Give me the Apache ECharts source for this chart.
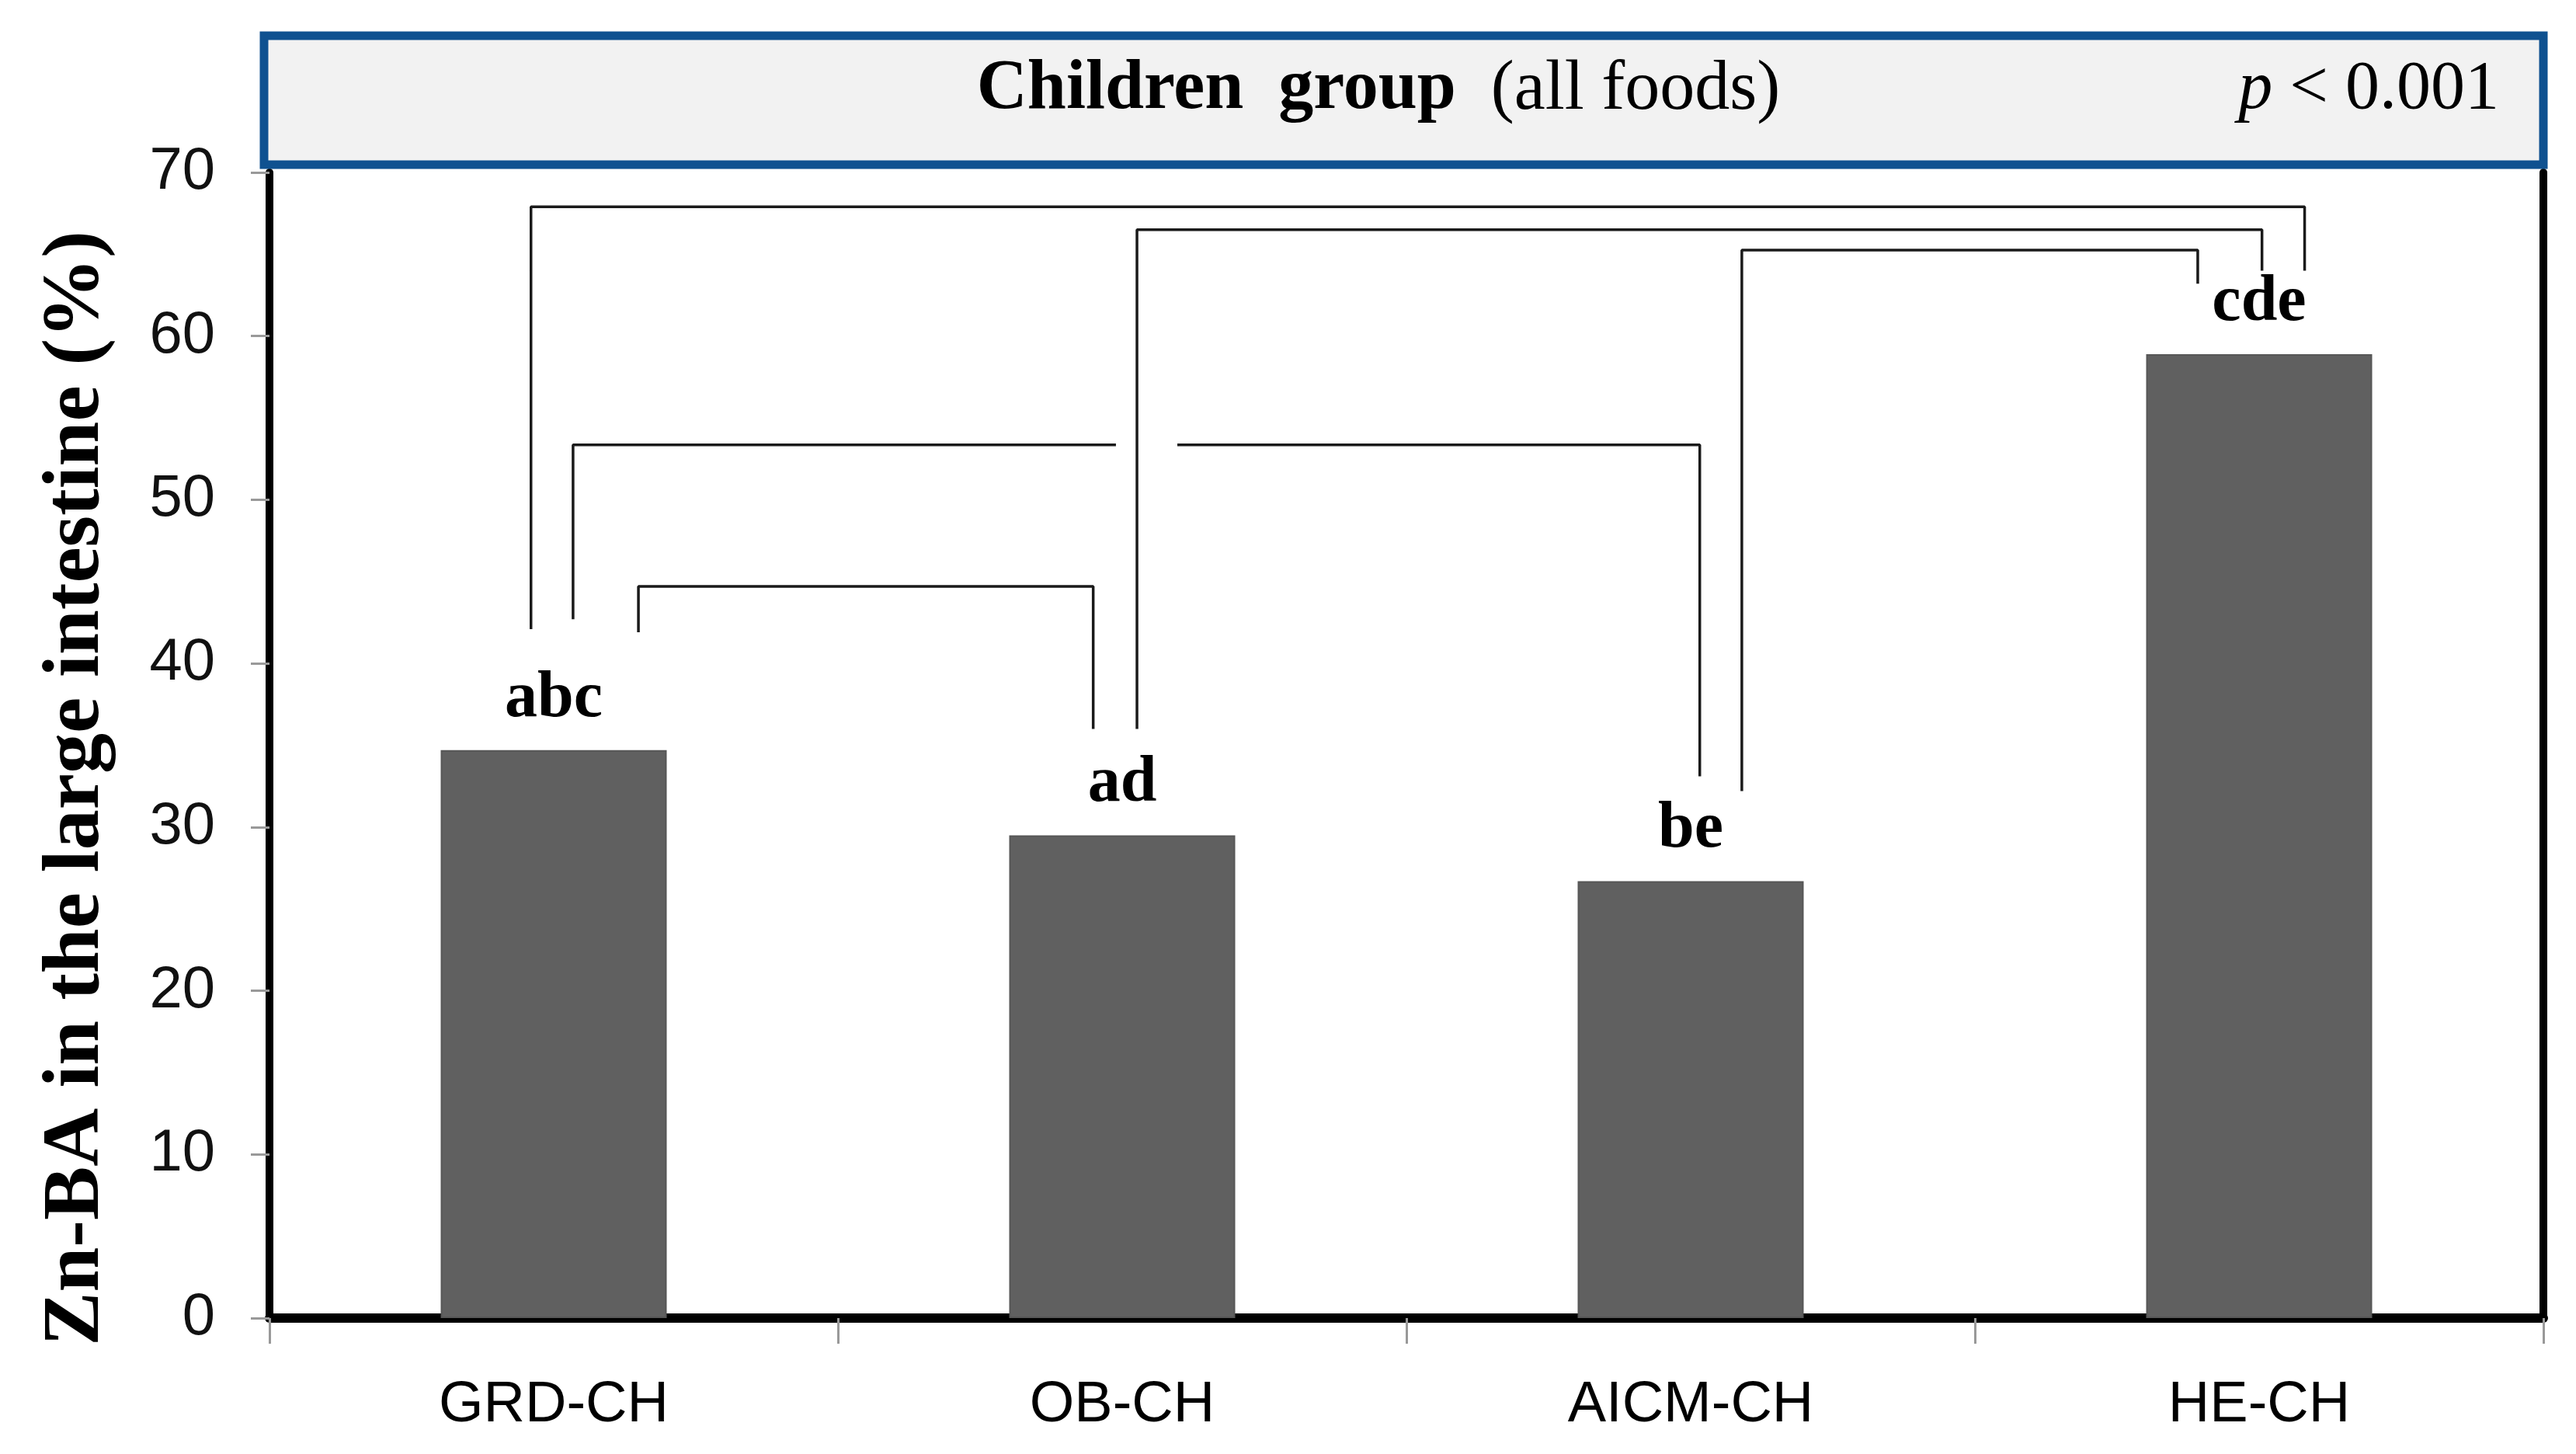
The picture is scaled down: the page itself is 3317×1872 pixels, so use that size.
<!DOCTYPE html>
<html>
<head>
<meta charset="utf-8">
<script src="https://cdn.jsdelivr.net/npm/echarts@6/dist/echarts.min.js"></script>
<style>
html,body{margin:0;padding:0;background:#fff;}
#chart{width:3317px;height:1872px;}
</style>
</head>
<body>
<div id="chart"></div>
<script>
const categories = ['GRD-CH', 'OB-CH', 'AICM-CH', 'HE-CH'];
const values = [34.7, 29.5, 26.7, 58.9];
const letters = ['abc', 'ad', 'be', 'cde'];
const yTicks = [0, 10, 20, 30, 40, 50, 60, 70];
// significance brackets, in data space: [category position, value]
const bracketAD = [[-0.04, 42.1], [-0.04, 67.9], [3.08, 67.9], [3.08, 64.0]];
const bracketB1 = [[0.034, 42.7], [0.034, 53.35], [0.989, 53.35]];
const bracketB2 = [[1.097, 53.35], [2.016, 53.35], [2.016, 33.1]];
const bracketA = [[0.149, 41.9], [0.149, 44.7], [0.949, 44.7], [0.949, 36.0]];
const bracketD = [[1.026, 36.0], [1.026, 66.5], [3.005, 66.5], [3.005, 64.0]];
const bracketE = [[2.09, 32.2], [2.09, 65.26], [2.892, 65.26], [2.892, 63.2]];
const brackets = [bracketAD, bracketB1, bracketB2, bracketA, bracketD, bracketE];

const chart = echarts.init(document.getElementById('chart'));
const sans = '"Liberation Sans", Arial, sans-serif';
const serif = '"Liberation Serif", "Times New Roman", serif';

const bracketSeries = brackets.map(b => ({
  type: 'line', xAxisIndex: 1, yAxisIndex: 0, data: b, symbol: 'none', silent: true,
  lineStyle: { color: '#1a1a1a', width: 3.5 }, z: 5, animation: false
}));

chart.setOption({
  animation: false,
  backgroundColor: '#ffffff',
  grid: { left: 347, right: 42, top: 222, bottom: 175, containLabel: false },
  xAxis: [{
    type: 'category', data: categories,
    axisLine: { show: true, lineStyle: { color: '#000', width: 12 } },
    axisTick: { show: true, length: 33, lineStyle: { color: '#999', width: 3 } },
    axisLabel: { color: '#000', fontFamily: sans, fontSize: 74, margin: 76 }
  }, {
    type: 'value', min: -0.5, max: 3.5, show: false
  }],
  yAxis: [{
    type: 'value', min: 0, max: 70, interval: 10, position: 'left',
    axisLine: { show: true, onZero: false, lineStyle: { color: '#000', width: 10 } },
    axisTick: { show: true, length: 24, lineStyle: { color: '#999', width: 3 } },
    splitLine: { show: false },
    axisLabel: { color: '#111', fontFamily: sans, fontSize: 76, margin: 70,
      formatter: v => yTicks.includes(v) ? String(v) : '' }
  }, {
    type: 'value', min: 0, max: 70, interval: 10, position: 'right',
    axisLine: { show: true, onZero: false, lineStyle: { color: '#000', width: 10 } },
    axisTick: { show: false }, axisLabel: { show: false }, splitLine: { show: false }
  }],
  graphic: [
    { type: 'rect', z: 10, shape: { x: 340, y: 46, width: 2935, height: 166 },
      style: { fill: '#f2f2f2', stroke: '#0f5190', lineWidth: 11 } },
    { type: 'text', z: 11, x: 1775, y: 116,
      style: { text: '{b|Children  group}{r|  (all foods)}', align: 'center', verticalAlign: 'middle',
        rich: { b: { fontFamily: serif, fontWeight: 'bold', fontSize: 90, fill: '#000' },
                r: { fontFamily: serif, fontSize: 90, fill: '#000' } } } },
    { type: 'text', z: 11, x: 3218, y: 116,
      style: { text: '{i|p} < 0.001', align: 'right', verticalAlign: 'middle',
        rich: { i: { fontFamily: serif, fontStyle: 'italic', fontSize: 88, fill: '#000' } },
        font: '88px ' + serif, fill: '#000' } },
    { type: 'text', z: 11, x: 99, y: 1015, rotation: Math.PI / 2,
      style: { text: 'Zn-BA in the large intestine (%)', align: 'center', verticalAlign: 'middle',
        font: 'bold 104px ' + serif, fill: '#000' } }
  ],
  series: [{
    type: 'bar', data: values, barWidth: 291,
    itemStyle: { color: '#606060', borderColor: '#575757', borderWidth: 2 },
    label: {
      show: true, position: 'top', distance: 24,
      formatter: p => letters[p.dataIndex],
      fontFamily: serif, fontWeight: 'bold', fontSize: 84, color: '#000'
    }
  }].concat(bracketSeries)
});
</script>
</body>
</html>
